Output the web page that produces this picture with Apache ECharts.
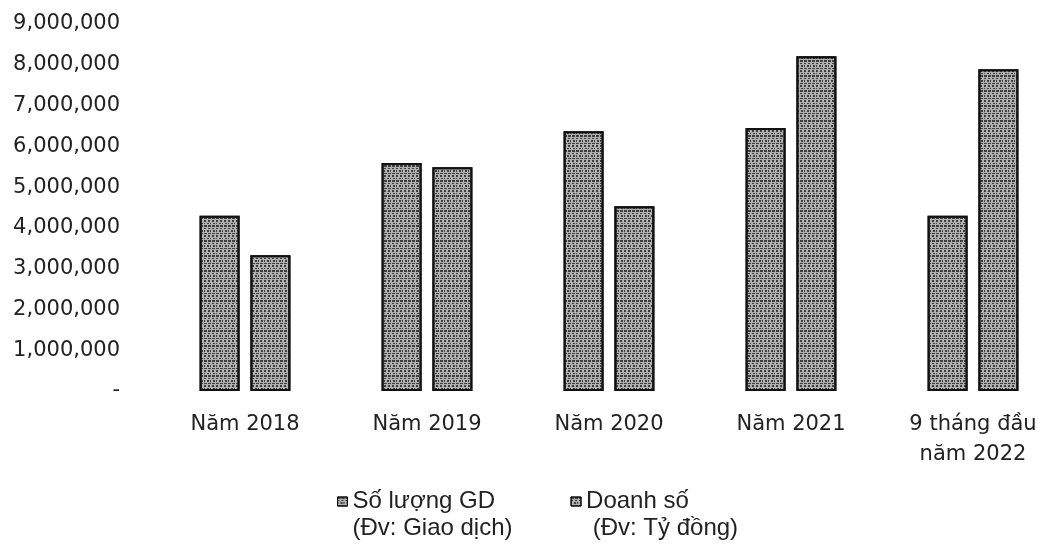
<!DOCTYPE html>
<html>
<head>
<meta charset="utf-8">
<script src="https://cdn.jsdelivr.net/npm/echarts@6/dist/echarts.min.js"></script>
<style>html,body{margin:0;padding:0;background:#fff;}#c{width:1038px;height:550px;}</style>
</head>
<body>
<div id="c"></div>
<script>
const categories = ['Năm 2018', 'Năm 2019', 'Năm 2020', 'Năm 2021', '9 tháng đầu\nnăm 2022'];
const seriesNames = ['Số lượng GD\n(Đv: Giao dịch)', 'Doanh số\n (Đv: Tỷ đồng)'];
const soLuongGD = [4300000, 5590000, 6370000, 6450000, 4300000];
const doanhSo = [3330000, 5490000, 4530000, 8210000, 7890000];

const chart = echarts.init(document.getElementById('c'), null, {renderer: 'canvas'});
const barStyle = {
  color: '#b0b0b0',
  borderColor: '#111',
  borderWidth: 2,
  decal: {
    symbol: 'rect',
    symbolSize: 1,
    dashArrayX: [[2, 2], [1, 2, 2, 1], [3, 1]],
    dashArrayY: [2, 1, 1, 1],
    rotation: 0,
    color: 'rgba(25,25,25,0.75)'
  }
};
chart.setOption({
  animation: false,
  grid: {left: 154, top: 24, width: 910, bottom: 159, outerBoundsMode: 'none', containLabel: false},
  legend: {
    left: 332, top: 483,
    itemWidth: 10, itemHeight: 36, itemGap: 58,
    icon: 'path://M0,0H10V9H0Z M0,36',
    itemStyle: {borderWidth: 1, borderColor: '#111'},
    textStyle: {fontFamily: 'Liberation Sans', fontSize: 24, color: '#222', lineHeight: 27},
    data: seriesNames
  },
  xAxis: {
    type: 'category',
    data: categories,
    axisLine: {show: false},
    axisTick: {show: false},
    axisLabel: {margin: 19, fontFamily: 'DejaVu Sans', fontSize: 21, color: '#222', lineHeight: 30, interval: 0}
  },
  yAxis: {
    type: 'value', min: 0, max: 9000000, interval: 1000000,
    splitLine: {show: false},
    axisLine: {show: false},
    axisTick: {show: false},
    axisLabel: {
      margin: 34, fontFamily: 'DejaVu Sans', fontSize: 21, color: '#222',
      formatter: v => v === 0 ? '-' : v.toLocaleString('en-US')
    }
  },
  series: [
    {name: seriesNames[0], type: 'bar', data: soLuongGD, barWidth: 40, barGap: '27%', itemStyle: barStyle},
    {name: seriesNames[1], type: 'bar', data: doanhSo, barWidth: 40, itemStyle: barStyle}
  ]
});
</script>
</body>
</html>
